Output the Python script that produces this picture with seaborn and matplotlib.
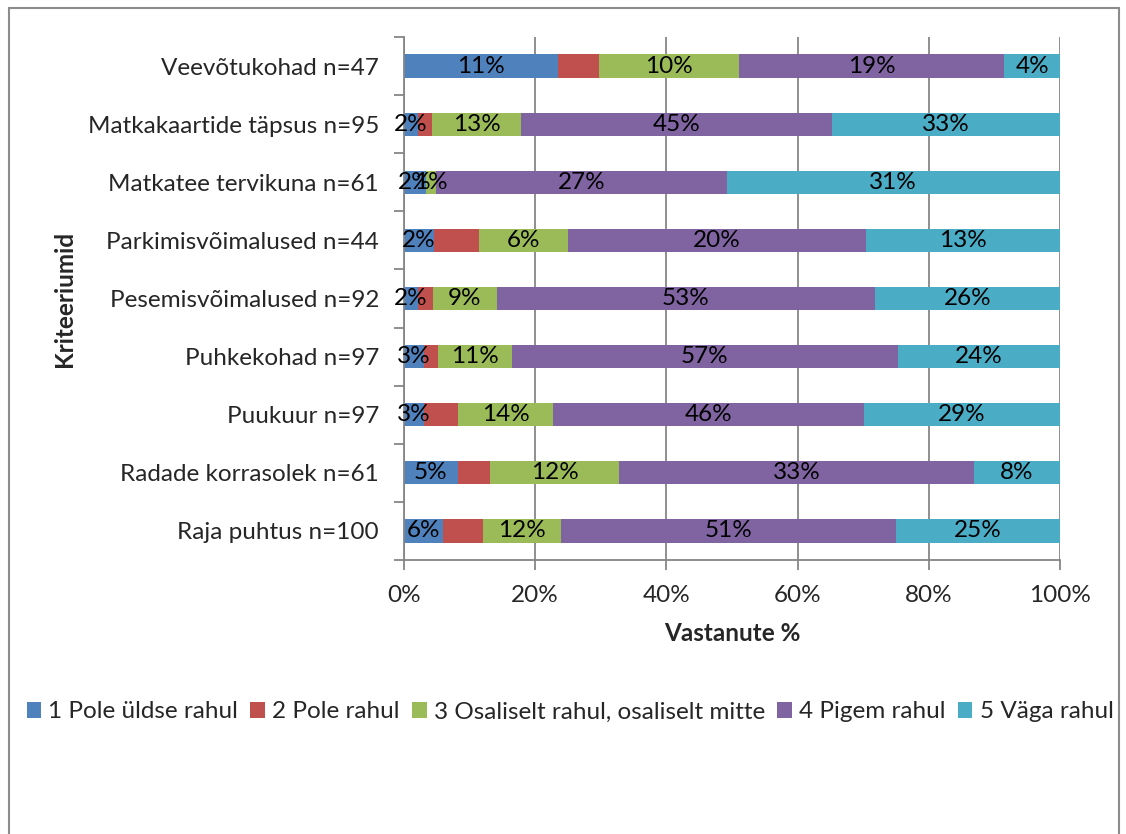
import matplotlib
matplotlib.use('Agg')
import matplotlib.pyplot as plt
from matplotlib.patches import Rectangle, Patch
import numpy as np
import pandas as pd
import seaborn as sns

criteria = ["Veevõtukohad n=47", "Matkakaartide täpsus n=95", "Matkatee tervikuna n=61",
            "Parkimisvõimalused n=44", "Pesemisvõimalused n=92", "Puhkekohad n=97",
            "Puukuur n=97", "Radade korrasolek n=61", "Raja puhtus n=100"]
levels = ["1 Pole üldse rahul", "2 Pole rahul", "3 Osaliselt rahul, osaliselt mitte",
          "4 Pigem rahul", "5 Väga rahul"]
colors = ["#4F81BD", "#C0504D", "#9BBB59", "#8064A2", "#4BACC6"]
# the red series has no data labels in the original
show_label = [True, False, True, True, True]

pole_yldse = [11, 2, 2, 2, 2, 3, 3, 5, 6]
pole = [3, 2, 0, 3, 2, 2, 5, 3, 6]
osaliselt = [10, 13, 1, 6, 9, 11, 14, 12, 12]
pigem = [19, 45, 27, 20, 53, 57, 46, 33, 51]
vaga = [4, 33, 31, 13, 26, 24, 29, 8, 25]

x_ticks = [0, 20, 40, 60, 80, 100]
x_tick_labels = ["0%", "20%", "40%", "60%", "80%", "100%"]

counts = pd.DataFrame(dict(zip(levels, [pole_yldse, pole, osaliselt, pigem, vaga])), index=criteria)
pct = counts.div(counts.sum(axis=1), axis=0) * 100
cum = pct.cumsum(axis=1)
plot_df = cum.reset_index().rename(columns={"index": "crit"})

sns.set_theme(style="white")
plt.rcParams['font.family'] = ['Lato', 'DejaVu Sans']
FS = 17.5

fig = plt.figure(figsize=(11.26, 8.34), dpi=100)
ax = fig.add_axes([404 / 1126, 1 - 560 / 834, (1060 - 404) / 1126, (560 - 37) / 834])

# stacked look: draw cumulative bars from the widest down
for lvl, col in reversed(list(zip(levels, colors))):
    sns.barplot(data=plot_df, x=lvl, y="crit", orient="y", color=col, saturation=1,
                width=0.4, linewidth=0, ax=ax)

for i, crit in enumerate(criteria):
    for lvl, lab in zip(levels, show_label):
        if not lab or counts.loc[crit, lvl] == 0:
            continue
        xc = cum.loc[crit, lvl] - pct.loc[crit, lvl] / 2
        ax.text(xc, i, f"{counts.loc[crit, lvl]}%", ha="center", va="center",
                fontsize=FS, color="black")

ax.set_xlim(0, 100)
ax.set_ylim(len(criteria) - 0.5, -0.5)
ax.set_xticks(x_ticks)
ax.set_xticklabels(x_tick_labels, fontsize=FS)
ax.set_yticks(range(len(criteria)))
ax.set_yticklabels(criteria, fontsize=FS)
ax.set_yticks(np.arange(-0.5, len(criteria), 1), minor=True)

grey = "#868686"
ax.xaxis.grid(True, color=grey, lw=1.3)
ax.set_axisbelow(True)
for s in ["top", "right"]:
    ax.spines[s].set_visible(False)
for s in ["left", "bottom"]:
    ax.spines[s].set_color(grey)
    ax.spines[s].set_linewidth(1.3)

ax.tick_params(axis="y", which="major", length=0, pad=18)
ax.tick_params(axis="y", which="minor", left=True, length=7, color=grey, width=1.3)
ax.tick_params(axis="x", bottom=True, length=7, color=grey, width=1.3, pad=11)

ax.set_xlabel("Vastanute %", fontsize=FS, fontweight="bold")
ax.set_ylabel("Kriteeriumid", fontsize=FS, fontweight="bold")
ax.xaxis.set_label_coords(0.5, -0.118)
ax.yaxis.set_label_coords(-0.5, 0.5)

handles = [Patch(facecolor=c, edgecolor="none") for c in colors]
fig.legend(handles, levels, loc="center", bbox_to_anchor=(570 / 1126, 1 - 712 / 834),
           ncol=5, frameon=False, fontsize=FS, handlelength=0.6, handleheight=0.6,
           handletextpad=0.3, columnspacing=0.5, borderaxespad=0)

fig.add_artist(Rectangle((9 / 1126, -0.1), (1119 - 9) / 1126, 1.1 - 8 / 834,
                         transform=fig.transFigure, fill=False, edgecolor="#8c8c8c", lw=1.5))

fig.savefig("out.png", dpi=100)
